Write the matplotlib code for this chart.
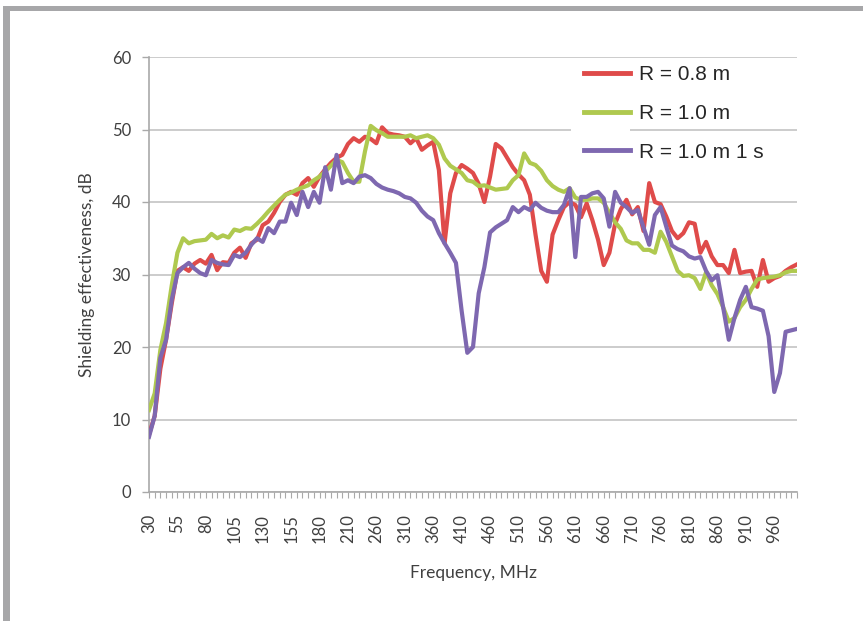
import matplotlib
matplotlib.use('Agg')
import matplotlib.pyplot as plt
from matplotlib.patches import Rectangle

# frequency categories (MHz) as they sit on the category axis
freqs = list(range(30, 185, 5)) + [185, 190, 195, 200] + list(range(210, 1010, 10))

# shielding effectiveness, dB
se_r08 = [7.9, 10.5, 17, 21, 26, 30.5, 31, 30.5, 31.5, 32,
          31.5, 32.7, 30.6, 31.7, 31.6, 33, 33.7, 32.3, 34.3, 34.8,
          36.8, 37.3, 38.5, 40, 41, 41.4, 41, 42.6, 43.3, 42.1,
          43.5, 44.5, 45.4, 46.1, 46.5, 48, 48.8, 48.3, 49, 48.7,
          48.1, 50.3, 49.5, 49.3, 49.2, 49, 48.1, 48.8, 47.2, 47.8,
          48.3, 44.4, 34.3, 41.2, 44, 45.1, 44.6, 44, 42.5, 40,
          43.5, 48, 47.4, 46.1, 44.8, 43.8, 43, 41, 35.5, 30.5,
          29, 35.5, 37.5, 39.3, 40, 39.6, 37.9, 39.8, 37.5, 34.8,
          31.3, 33, 37, 39, 40.3, 38.3, 39.3, 36, 42.6, 40,
          39.7, 38, 36, 35, 35.7, 37.2, 37, 33, 34.5, 32.5,
          31.3, 31.3, 30.2, 33.4, 30.2, 30.4, 30.5, 28.3, 32, 29,
          29.5, 29.8, 30.5, 31, 31.4]

se_r10 = [11.3, 13.6, 19.6, 23.3, 28.5, 33, 35, 34.3, 34.6, 34.7,
          34.8, 35.6, 35, 35.4, 35.1, 36.2, 36, 36.4, 36.3, 37,
          37.8, 38.7, 39.5, 40.3, 41, 41.3, 41.7, 42, 42.3, 43,
          43.5, 44.2, 45, 45.8, 45.5, 44, 42.8, 42.8, 47, 50.5,
          49.9, 49.5, 49, 49, 49, 49, 49.2, 48.8, 49, 49.2,
          48.8, 47.9, 46, 45, 44.5, 44, 43, 42.8, 42.2, 42.3,
          42, 41.7, 41.8, 41.9, 43, 43.7, 46.7, 45.4, 45.1, 44.3,
          43, 42.2, 41.7, 41.4, 41.9, 40.6, 40.3, 40.3, 40.5, 40.5,
          39.9, 38.5, 37.2, 36.3, 34.7, 34.3, 34.3, 33.4, 33.4, 33,
          35.9, 34.5, 32.5, 30.5, 29.8, 29.9, 29.5, 28, 30.3, 28.5,
          27.3, 25.5, 23.5, 24, 25.5, 26.5, 28, 29.3, 29.5, 29.6,
          29.7, 29.9, 30.3, 30.5, 30.5]

se_r10_1s = [7.6, 10.5, 18.5, 21, 26.5, 30.2, 31, 31.6, 30.8, 30.2,
             29.9, 32, 31.6, 31.4, 31.3, 32.7, 32.4, 33, 34.1, 35,
             34.5, 36.4, 35.7, 37.3, 37.3, 39.9, 38.2, 41.4, 39.3, 41.4,
             39.9, 44.8, 41.7, 46.5, 42.6, 43, 42.6, 43.5, 43.7, 43.3,
             42.5, 42, 41.7, 41.5, 41.2, 40.7, 40.5, 39.9, 38.8, 38,
             37.5, 35.7, 34.3, 33, 31.6, 25, 19.2, 20, 27.4, 31,
             35.8, 36.5, 37, 37.5, 39.3, 38.6, 39.3, 38.9, 39.9, 39.2,
             38.8, 38.6, 38.6, 39.6, 41.9, 32.4, 40.7, 40.7, 41.2, 41.4,
             40.5, 36.6, 41.4, 39.9, 39.3, 38.5, 38.9, 36.5, 34.1, 38.2,
             39.3, 36.6, 34, 33.5, 33.2, 32.5, 32.2, 32.4, 30.5, 29.2,
             29.9, 25.5, 21, 24, 26.5, 28.3, 25.5, 25.3, 25, 21.5,
             13.8, 16.4, 22.1, 22.3, 22.5]

series = [
    ('R = 0.8 m', se_r08, '#DF4B4A'),
    ('R = 1.0 m', se_r10, '#AFC94F'),
    ('R = 1.0 m 1 s', se_r10_1s, '#7E68B0'),
]

plt.rcParams['font.family'] = ['Lato', 'DejaVu Sans']

fig = plt.figure(figsize=(8.63, 6.21), dpi=100)
ax = fig.add_axes([149 / 863, 1 - 492 / 621, 648 / 863, 435 / 621])

# grey frame on the left and top edge
fig.add_artist(Rectangle((3 / 863, 0), 7 / 863, 1 - 6 / 621, transform=fig.transFigure,
                         color='#a7a7a9', lw=0, zorder=0))
fig.add_artist(Rectangle((3 / 863, 1 - 11 / 621), 860 / 863, 5 / 621, transform=fig.transFigure,
                         color='#a7a7a9', lw=0, zorder=0))

x = list(range(len(freqs)))
for label, vals, col in series:
    ax.plot(x, vals, color=col, lw=3.0, label=label, solid_joinstyle='round', zorder=3)

ax.set_xlim(0, len(freqs) - 1)
ax.set_ylim(0, 60)
ax.set_yticks(range(0, 61, 10))
ax.grid(axis='y', color='#c4c4c4', lw=1.2)
ax.set_axisbelow(True)

ax.set_xticks(x[::5])
ax.set_xticklabels([str(f) for f in freqs[::5]], rotation=90)
ax.set_xticks(x, minor=True)

for s in ['top', 'right']:
    ax.spines[s].set_visible(False)
for s in ['left', 'bottom']:
    ax.spines[s].set_color('#a9a9a9')
    ax.spines[s].set_linewidth(1.2)

ax.tick_params(axis='y', length=5, width=1, color='#a9a9a9', pad=8,
               labelsize=12, labelcolor='#404040')
ax.tick_params(axis='x', which='both', length=4, width=0.8, color='#a9a9a9')
ax.tick_params(axis='x', which='major', pad=12, labelsize=12, labelcolor='#404040')

ax.set_xlabel('Frequency, MHz', fontsize=12.5, color='#404040', labelpad=16)
ax.set_ylabel('Shielding effectiveness, dB', fontsize=12.5, color='#404040', labelpad=12)

# white patch behind the legend handles (covers the grid line there)
ax.add_patch(Rectangle((571 / 863, 1 - 165 / 621), 59 / 863, 105 / 621,
                       transform=fig.transFigure, color='white', lw=0, zorder=2))

leg = ax.legend(loc='upper left', bbox_to_anchor=(584 / 863, 1 - 65 / 621),
                bbox_transform=fig.transFigure, frameon=False, borderpad=0,
                borderaxespad=0, handlelength=2.2, handletextpad=0.45,
                labelspacing=0.95, prop={'family': 'Liberation Sans', 'size': 15})
for t in leg.get_texts():
    t.set_color('#262626')
for h in leg.get_lines():
    h.set_linewidth(3.5)

fig.savefig('out.png', dpi=100)
